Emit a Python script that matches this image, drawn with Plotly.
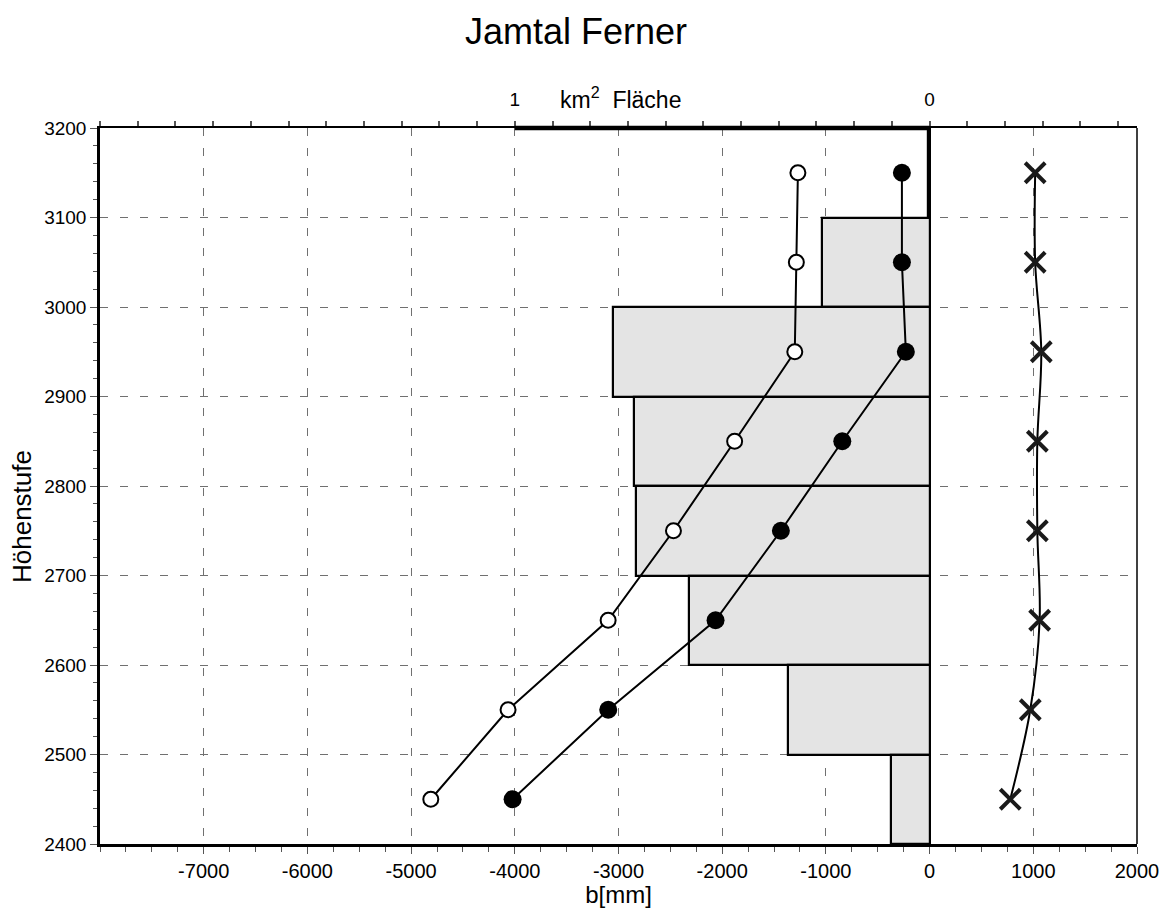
import plotly.graph_objects as go

# Data
elev_mid = [3150, 3050, 2950, 2850, 2750, 2650, 2550, 2450]
area_km2 = [0.004, 0.26, 0.763, 0.713, 0.708, 0.579, 0.341, 0.094]
b_summer = [-1270, -1285, -1300, -1880, -2470, -3100, -4065, -4810]
b_net = [-267, -267, -229, -842, -1434, -2064, -3099, -4021]
b_winter = [1018, 1018, 1077, 1039, 1039, 1061, 971, 778]

x_tickvals = [-7000, -6000, -5000, -4000, -3000, -2000, -1000, 0, 1000, 2000]
x_ticktext = [str(v) for v in x_tickvals]
area_tickvals = [0, 1]
area_ticktext = ["0", "1"]
area_minor = [k / 11 for k in range(-5, 23)]

FONT = "Liberation Sans, Arial, sans-serif"
GRID = "#707070"
TICKC = "#555555"

W, H = 1173, 908
L, R, T, B = 100, 36, 128, 64
PW, PH = W - L - R, H - T - B


def px(xs):
    return (xs - L) / PW


def py(ys):
    return (H - B - ys) / PH


fig = go.Figure()

# area bars on the base (top) axis so the b[mm] traces overlay them
fig.add_trace(go.Bar(
    x=area_km2, y=elev_mid, orientation="h", width=100, base=0,
    xaxis="x", yaxis="y",
    marker=dict(color="#e4e4e4", line=dict(color="black", width=2.2)),
    showlegend=False,
))

fig.add_trace(go.Scatter(
    x=b_summer, y=elev_mid, mode="lines+markers", xaxis="x2", yaxis="y",
    line=dict(color="black", width=2),
    marker=dict(symbol="circle", size=15, color="white", line=dict(color="black", width=2)),
    showlegend=False,
))

fig.add_trace(go.Scatter(
    x=b_net, y=elev_mid, mode="lines+markers", xaxis="x2", yaxis="y",
    line=dict(color="black", width=2),
    marker=dict(symbol="circle", size=18, color="black", line=dict(color="black", width=0)),
    showlegend=False,
))

fig.add_trace(go.Scatter(
    x=b_winter, y=elev_mid, mode="lines+markers", xaxis="x2", yaxis="y",
    line=dict(color="black", width=2, shape="spline"),
    marker=dict(symbol="x-thin", size=20, color="#1a1a1a", line=dict(color="#1a1a1a", width=4)),
    showlegend=False,
))

fig.update_layout(
    width=W, height=H,
    margin=dict(l=L, r=R, t=T, b=B, autoexpand=False),
    paper_bgcolor="white", plot_bgcolor="white",
    font=dict(family=FONT, color="black", size=19),
    title=dict(text="Jamtal Ferner", x=576 / W, xref="container", xanchor="center",
               y=1 - 31 / H, yanchor="middle", yref="container",
               font=dict(size=36, family=FONT, color="black")),
    bargap=0,
    xaxis=dict(
        side="top", anchor="y", range=[2, -0.5], automargin=False,
        tickmode="array", tickvals=area_tickvals, ticktext=area_ticktext,
        ticks="outside", ticklen=5, tickwidth=1.5, tickcolor=TICKC,
        minor=dict(tickmode="array", tickvals=area_minor, ticks="outside", ticklen=5,
                   tickwidth=1.5, tickcolor=TICKC, showgrid=False),
        ticklabelstandoff=8,
        showline=True, linewidth=1.5, linecolor="black",
        showgrid=False, zeroline=False, tickfont=dict(size=19),
    ),
    xaxis2=dict(
        overlaying="x", side="bottom", anchor="y", automargin=False,
        range=[-8000, 2000], tickmode="array", tickvals=x_tickvals, ticktext=x_ticktext,
        ticks="outside", ticklen=7, tickwidth=1, tickcolor=TICKC,
        minor=dict(dtick=250, tick0=0, ticks="outside", ticklen=5, tickcolor=TICKC, showgrid=False),
        showline=True, linewidth=2.5, linecolor="black",
        showgrid=True, gridcolor=GRID, griddash="8px,12px", gridwidth=1,
        zeroline=False, tickfont=dict(size=20),
        title=dict(text="b[mm]", font=dict(size=24), standoff=6),
    ),
    yaxis=dict(
        range=[2400, 3200], tick0=2400, dtick=100, ticks="outside", ticklen=7,
        automargin=False,
        tickwidth=1, tickcolor=TICKC,
        minor=dict(dtick=20, tick0=2400, ticks="outside", ticklen=4, tickcolor=TICKC, showgrid=False),
        showline=True, linewidth=2.5, linecolor="black",
        showgrid=True, gridcolor=GRID, griddash="8px,12px", gridwidth=1,
        zeroline=False, tickfont=dict(size=19),
    ),
    shapes=[
        dict(type="line", xref="x", yref="paper", x0=1, x1=0, y0=1, y1=1,
             line=dict(color="black", width=4.5), layer="above"),
        dict(type="line", xref="paper", yref="paper", x0=1, x1=1, y0=0, y1=1,
             line=dict(color="black", width=1.5), layer="above"),
    ],
    annotations=[
        dict(text="km<sup>2</sup>  Fläche", xref="paper", yref="paper",
             x=px(620), y=py(98), xanchor="center", yanchor="middle",
             showarrow=False, font=dict(size=23, family=FONT)),
        dict(text="Höhenstufe", xref="paper", yref="paper", textangle=-90,
             x=px(22), y=py(517), xanchor="center", yanchor="middle",
             showarrow=False, font=dict(size=26, family=FONT)),
    ],
)

fig.write_html("out.html", config={"displayModeBar": False},
               post_script="document.body.style.margin='0';")
